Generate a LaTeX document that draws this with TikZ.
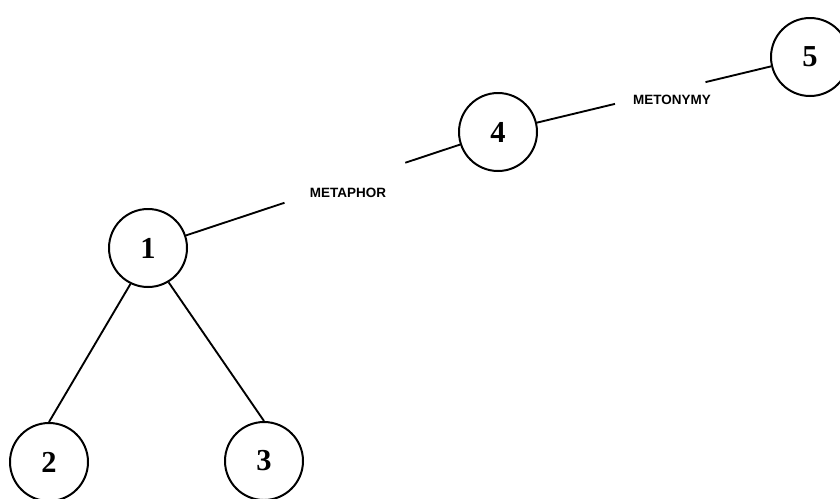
\documentclass[tikz,border=0pt]{standalone}
\usepackage{fontspec}
\setmainfont{Liberation Serif}
\newfontfamily\lblfont{Liberation Sans}
\usetikzlibrary{calc}
\begin{document}
\begin{tikzpicture}[x=0.03cm, y=-0.03cm,
		trope/.style={circle, draw, line width=1.7pt, minimum size=2.34cm, inner sep=0pt, font=\bfseries\fontsize{26}{26}\selectfont},
		link/.style={line width=1.6pt},
		lbl/.style={font=\lblfont\bfseries\fontsize{11.5}{12}\selectfont, inner sep=0pt}]
		\useasboundingbox (0,0) rectangle (840,498);
		% Tree
		\node[trope] (n1) at (148,248) {1};
		\node[trope] (n2) at (49,462) {2};
		\node[trope] (n3) at (264,461) {3};
		\draw[link] (n1.-116) -- (n2.north);
		\draw[link] (n1.-59) -- (n3.north);
		% Chain
		\node[trope] (n4) at (498,132) {4};
		\node[trope] (n5) at (810,57) {5};
		\coordinate (m1) at ($(n1)!0.39!(n4)$);
		\coordinate (m2) at ($(n1)!0.735!(n4)$);
		\draw[link] (n1) -- (m1);
		\draw[link] (m2) -- (n4);
		\node[lbl] (metaphor) at (348,193) {METAPHOR};
		\coordinate (m3) at ($(n4)!0.375!(n5)$);
		\coordinate (m4) at ($(n4)!0.665!(n5)$);
		\draw[link] (n4) -- (m3);
		\draw[link] (m4) -- (n5);
		\node[lbl] (metonymy) at (672,100) {METONYMY};
	\end{tikzpicture}
\end{document}
